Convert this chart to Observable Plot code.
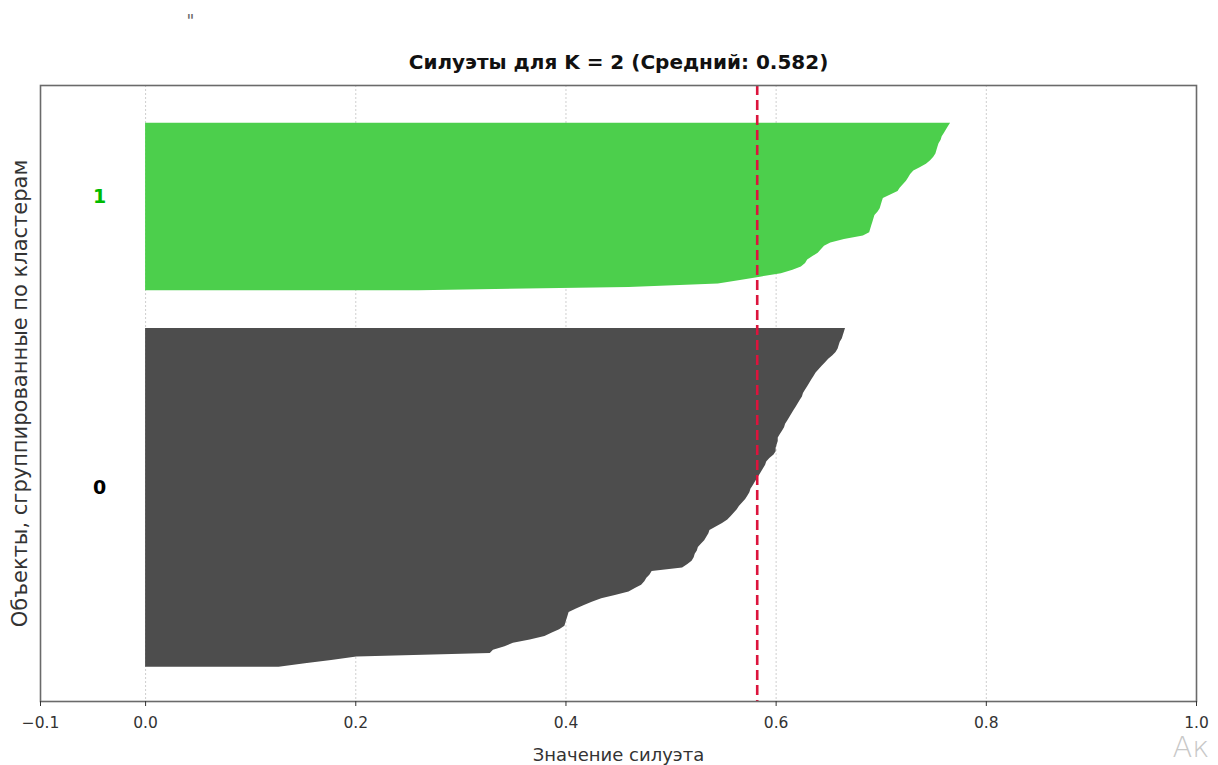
<!DOCTYPE html>
<html>
<head>
<meta charset="utf-8">
<script src="https://cdn.jsdelivr.net/npm/d3@7"></script>
<script src="https://cdn.jsdelivr.net/npm/@observablehq/plot@0.6"></script>
<style>
  html, body { margin: 0; padding: 0; background: #ffffff; }
  #chart svg { display: block; }
</style>
</head>
<body>
<div id="chart"></div>
<script>
// Silhouette scores per sample, sorted ascending within each cluster
const cluster0Scores = [
  0.127, 0.152, 0.177, 0.201, 0.328, 0.331, 0.342, 0.350, 0.366, 0.380,
  0.387, 0.394, 0.399, 0.400, 0.401, 0.402, 0.403, 0.410, 0.417, 0.425,
  0.434, 0.447, 0.460, 0.466, 0.472, 0.475, 0.477, 0.480, 0.482, 0.511,
  0.516, 0.520, 0.522, 0.523, 0.525, 0.526, 0.529, 0.532, 0.534, 0.536,
  0.537, 0.543, 0.549, 0.554, 0.557, 0.560, 0.563, 0.565, 0.568, 0.571,
  0.573, 0.575, 0.576, 0.578, 0.580, 0.582, 0.584, 0.586, 0.588, 0.590,
  0.591, 0.594, 0.598, 0.600, 0.600, 0.601, 0.602, 0.602, 0.604, 0.606,
  0.608, 0.609, 0.611, 0.613, 0.615, 0.617, 0.619, 0.621, 0.623, 0.625,
  0.626, 0.628, 0.630, 0.632, 0.634, 0.636, 0.638, 0.641, 0.644, 0.647,
  0.650, 0.654, 0.657, 0.659, 0.660, 0.661, 0.663, 0.664, 0.665, 0.666
];
const cluster1Scores = [
  0.260, 0.460, 0.545, 0.566, 0.585, 0.605, 0.616, 0.624, 0.628, 0.630,
  0.635, 0.640, 0.643, 0.646, 0.652, 0.665, 0.683, 0.689, 0.690, 0.691,
  0.692, 0.693, 0.694, 0.697, 0.699, 0.700, 0.701, 0.702, 0.709, 0.716,
  0.718, 0.721, 0.724, 0.726, 0.728, 0.731, 0.737, 0.743, 0.747, 0.750,
  0.752, 0.753, 0.754, 0.755, 0.757, 0.758, 0.760, 0.762, 0.764, 0.766
];
const clusterIds = [0, 1];
const clusterScores = [cluster0Scores, cluster1Scores];
const clusterFills = ["#4d4d4d", "#4ccf4c"];
const clusterLabelColors = ["#000000", "#00bb00"];
const avgScore = 0.582;
const nClusters = 2;
const xTicks = [-0.1, 0.0, 0.2, 0.4, 0.6, 0.8, 1.0];
const gridTicks = [0.0, 0.2, 0.4, 0.6, 0.8];

const titleText = `Силуэты для K = ${nClusters} (Средний: ${avgScore})`;
const xLabel = "Значение силуэта";
const yLabel = "Объекты, сгруппированные по кластерам";

// Stack the clusters bottom-up with a 10-row gap, as in the usual silhouette layout
const gap = 10;
let yLower = gap;
const rows = [];
const labels = [];
clusterIds.forEach((k) => {
  const scores = clusterScores[k];
  scores.forEach((s, i) => rows.push({cluster: k, row: yLower + i, score: s}));
  labels.push({cluster: k, y: yLower + 0.5 * scores.length, text: String(k)});
  yLower += scores.length + gap;
});
const yMax = yLower; // total samples + (n + 1) * gap

const fmt = (d) => (d < 0 ? "\u2212" + Math.abs(d).toFixed(1) : d.toFixed(1));

const chart = Plot.plot({
  width: 1218,
  height: 765,
  marginLeft: 40,
  marginRight: 22,
  marginTop: 85,
  marginBottom: 64,
  style: {fontFamily: "DejaVu Sans, sans-serif", background: "#ffffff", overflow: "visible"},
  x: {domain: [-0.1, 1.0]},
  y: {domain: [0, yMax], axis: null},
  marks: [
    Plot.ruleX(gridTicks, {stroke: "#cfcfcf", strokeWidth: 1, strokeDasharray: "2,2"}),
    ...clusterIds.map((k) =>
      Plot.areaX(rows.filter((d) => d.cluster === k), {
        y: "row", x1: 0, x2: "score", fill: clusterFills[k], curve: "linear"
      })
    ),
    Plot.ruleX([avgScore], {stroke: "#dc143c", strokeWidth: 2.6, strokeDasharray: "10,5"}),
    Plot.text(labels, {
      x: -0.05, y: "y", text: "text",
      fill: (d) => clusterLabelColors[d.cluster],
      textAnchor: "start", lineAnchor: "bottom", dy: -2, fontSize: 19, fontWeight: "bold"
    }),
    Plot.frame({stroke: "#6a6a6a", strokeWidth: 1.6}),
    Plot.axisX({
      ticks: xTicks, tickFormat: fmt, tickSize: 5, tickPadding: 10,
      fontSize: 15.5, color: "#333", label: null
    }),
    Plot.text([titleText], {
      frameAnchor: "top", dy: -23, lineAnchor: "middle",
      fontSize: 20, fontWeight: "bold", fill: "#111"
    }),
    Plot.text([xLabel], {
      frameAnchor: "bottom", dy: 54, lineAnchor: "middle", fontSize: 18, fill: "#333"
    }),
    Plot.text([yLabel], {
      frameAnchor: "left", dx: -20, rotate: -90, textAnchor: "middle", lineAnchor: "middle",
      fontSize: 21, fill: "#333"
    }),
    Plot.text(["\""], {
      frameAnchor: "top-left", dx: 146, dy: -64, lineAnchor: "middle",
      fontSize: 17, fill: "#666"
    }),
    Plot.text(["Ак"], {
      frameAnchor: "bottom-right", dx: -24, dy: 46, textAnchor: "start", lineAnchor: "middle",
      fontSize: 29, fontWeight: 200, fill: "#c8c8c8"
    })
  ]
});

document.getElementById("chart").appendChild(chart);
</script>
</body>
</html>
